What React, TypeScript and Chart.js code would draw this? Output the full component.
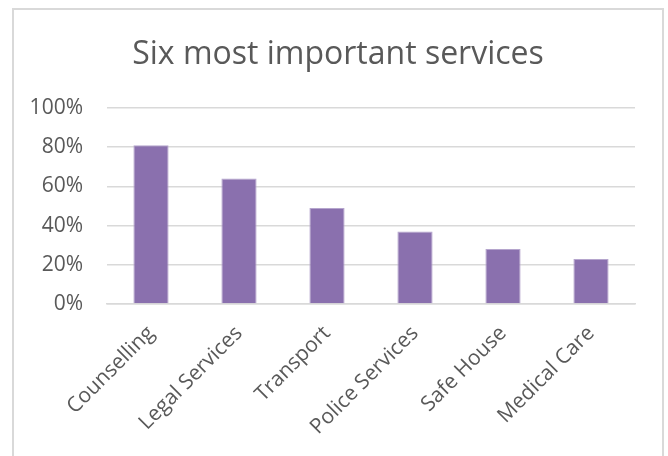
import React, { useEffect, useRef } from "react";
import { Chart, registerables } from "chart.js";

Chart.register(...registerables);

const TITLE = "Six most important services";
const categories = ["Counselling", "Legal Services", "Transport", "Police Services", "Safe House", "Medical Care"];
const values = [81, 64, 49, 37, 28, 23];
const yTicks = [0, 20, 40, 60, 80, 100];

const W = 668;
const H = 456;
const FONT = "'Open Sans', sans-serif";
const TEXT = "#595959";
const GRID = "#d9d9d9";

const titlePlugin = {
  id: "fixedTitle",
  afterDraw(chart: any) {
    const ctx = chart.ctx;
    ctx.save();
    ctx.font = `32px ${FONT}`;
    ctx.fillStyle = TEXT;
    ctx.textAlign = "center";
    ctx.textBaseline = "alphabetic";
    ctx.fillText(TITLE, 338, 64);
    ctx.restore();
  },
};

export default function App() {
  const ref = useRef<HTMLCanvasElement | null>(null);
  useEffect(() => {
    if (!ref.current) return;
    const chart = new Chart(ref.current, {
      type: "bar",
      data: {
        labels: categories,
        datasets: [
          {
            data: values,
            backgroundColor: "#8a70ae",
            borderColor: "#b5a5cd",
            borderWidth: 1,
            barPercentage: 0.4,
            categoryPercentage: 1,
          },
        ],
      },
      options: {
        responsive: false,
        animation: false,
        devicePixelRatio: 1,
        layout: { padding: { left: 13, right: 33, top: 108, bottom: 0 } },
        plugins: { legend: { display: false }, title: { display: false }, tooltip: { enabled: false } },
        scales: {
          x: {
            grid: { display: false, drawTicks: false },
            border: { display: true, color: GRID, width: 1.5 },
            ticks: {
              color: TEXT,
              font: { family: FONT, size: 21 },
              minRotation: 45,
              maxRotation: 45,
              padding: 17,
              autoSkip: false,
            },
            afterFit(scale: any) {
              scale.height = H - 304;
            },
          },
          y: {
            min: 0,
            max: 100,
            grid: { color: GRID, lineWidth: 1.5, drawTicks: false },
            border: { display: false },
            afterBuildTicks(scale: any) {
              scale.ticks = yTicks.map((v) => ({ value: v }));
            },
            ticks: {
              color: TEXT,
              font: { family: FONT, size: 21 },
              padding: 24,
              callback: (v: any) => `${v}%`,
            },
            afterFit(scale: any) {
              scale.width = 107 - 13;
            },
          },
        },
      },
      plugins: [titlePlugin],
    });
    return () => chart.destroy();
  }, []);

  return (
    <div style={{ position: "fixed", left: 0, top: 0, width: W, height: H, background: "#fff", overflow: "hidden" }}>
      <div
        style={{
          position: "absolute",
          left: 12,
          top: 8,
          width: 652,
          height: H,
          boxSizing: "border-box",
          border: `2px solid ${GRID}`,
          borderBottom: "none",
        }}
      />
      <canvas ref={ref} width={W} height={H} style={{ position: "absolute", left: 0, top: 0, width: W, height: H }} />
    </div>
  );
}
